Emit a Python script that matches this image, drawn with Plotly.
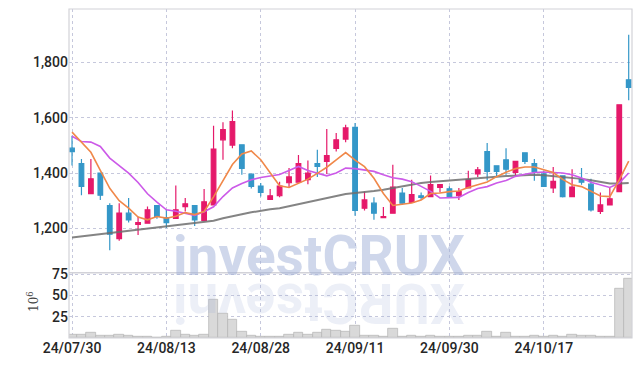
import plotly.graph_objects as go

dates = ["24/07/30","24/07/31","24/08/01","24/08/02","24/08/05","24/08/06","24/08/07","24/08/08","24/08/09","24/08/12",
         "24/08/13","24/08/14","24/08/16","24/08/19","24/08/20","24/08/21","24/08/22","24/08/23","24/08/26","24/08/27",
         "24/08/28","24/08/29","24/08/30","24/09/02","24/09/03","24/09/04","24/09/05","24/09/06","24/09/09","24/09/10",
         "24/09/11","24/09/12","24/09/13","24/09/19","24/09/20","24/09/23","24/09/24","24/09/25","24/09/26","24/09/27",
         "24/09/30","24/10/02","24/10/04","24/10/07","24/10/08","24/10/10","24/10/11","24/10/14","24/10/15","24/10/16",
         "24/10/17","24/10/18","24/10/21","24/10/22","24/10/23","24/10/24","24/10/25","24/10/28","24/10/29","24/10/30"]

open_ = [1490,1434,1326,1400,1282,1163,1255,1214,1219,1282,
         1239,1236,1279,1282,1229,1285,1520,1501,1502,1396,
         1353,1305,1318,1365,1367,1376,1434,1442,1489,1523,
         1565,1273,1291,1239,1255,1328,1294,1318,1315,1348,
         1343,1318,1346,1397,1478,1426,1448,1402,1473,1434,
         1397,1346,1390,1315,1376,1360,1261,1285,1333,1737]
high = [1535,1451,1451,1402,1291,1291,1310,1243,1279,1284,
        1267,1355,1310,1285,1342,1571,1584,1626,1503,1398,
        1364,1342,1369,1418,1465,1445,1484,1559,1545,1575,
        1581,1333,1313,1277,1430,1346,1376,1330,1391,1360,
        1352,1346,1408,1422,1509,1428,1490,1443,1475,1451,
        1409,1422,1392,1414,1418,1379,1330,1346,1648,1900]
low = [1427,1320,1324,1303,1121,1155,1221,1176,1217,1235,
       1201,1234,1261,1209,1226,1283,1448,1490,1394,1344,
       1315,1303,1313,1349,1365,1360,1386,1397,1478,1511,
       1246,1265,1231,1239,1253,1285,1292,1303,1313,1330,
       1311,1303,1344,1386,1373,1388,1394,1388,1433,1372,
       1350,1328,1312,1313,1358,1261,1252,1283,1332,1663]
close = [1477,1352,1379,1320,1179,1255,1231,1221,1267,1243,
         1221,1267,1289,1231,1296,1487,1557,1586,1417,1352,
         1330,1318,1353,1386,1434,1400,1424,1463,1520,1563,
         1265,1303,1255,1243,1349,1291,1322,1312,1358,1358,
         1313,1333,1376,1412,1406,1406,1414,1442,1442,1406,
         1352,1370,1315,1349,1367,1267,1285,1307,1647,1710]

ma5 = [1548,1512,1475,1410,1345,1300,1273,1241,1231,1243,
       1237,1244,1257,1250,1261,1314,1372,1431,1469,1480,
       1448,1401,1354,1348,1364,1378,1399,1421,1448,1474,
       1447,1423,1381,1326,1283,1288,1292,1303,1326,1328,
       1333,1335,1348,1358,1368,1387,1403,1416,1422,1422,
       1411,1402,1377,1358,1351,1334,1317,1315,1375,1443]
ma20 = [1533,1514,1512,1496,1454,1426,1400,1366,1325,1295,
        1267,1262,1255,1247,1260,1278,1315,1346,1362,1376,
        1384,1390,1395,1409,1424,1409,1400,1390,1400,1418,
        1416,1412,1406,1394,1383,1378,1369,1352,1334,1310,
        1310,1312,1330,1344,1351,1364,1373,1388,1396,1402,
        1404,1402,1400,1394,1382,1367,1358,1348,1364,1400]
ma_long = [1167,1171,1175,1179,1183,1187,1191,1195,1199,1203,
           1207,1211,1215,1219,1223,1228,1237,1245,1251,1258,
           1264,1269,1273,1280,1289,1296,1303,1310,1317,1324,
           1328,1331,1335,1340,1346,1352,1359,1364,1368,1371,
           1373,1376,1379,1382,1385,1387,1389,1391,1393,1394,
           1392,1389,1386,1383,1379,1374,1368,1362,1362,1364]
volume = [4.3,4.5,5.8,3.1,3.1,4.5,3.1,2,2,0.5,
          2,8.2,3.5,2.3,4.5,44.6,28.2,21.1,7,3.1,
          2,2,2,4.5,5.8,3.9,5.8,10.2,8.2,7,
          14.9,3.1,2.3,2,11.4,1,3,2,3,2,
          1,1,3,3,7,2,5.8,2,2,3,
          2,3,2,4.5,3,3,1,1,57.9,70]

x_ticks = ["24/07/30","24/08/13","24/08/28","24/09/11","24/09/30","24/10/17"]
price_ticks = [1200, 1400, 1600, 1800]
volume_ticks = [25, 50, 75]

UP = "#e5196a"
DOWN = "#3497c8"
GRID = "#c6c8dc"
BORDER = "#d2d2d8"
TICKFONT = dict(family="Roboto, Liberation Sans, sans-serif", size=14, color="#262626", weight=500)
VOL_DOMAIN = 0.1986

fig = go.Figure()

fig.add_trace(go.Bar(x=dates, y=volume, yaxis="y2", marker=dict(color="#d9d9d9", line=dict(color="#b3b3b3", width=0.7)),
                     showlegend=False, hoverinfo="skip"))

fig.add_trace(go.Candlestick(x=dates, open=open_, high=high, low=low, close=close,
                             increasing=dict(line=dict(color=UP, width=1.2), fillcolor=UP),
                             decreasing=dict(line=dict(color=DOWN, width=1.2), fillcolor=DOWN),
                             whiskerwidth=0, showlegend=False))

fig.add_trace(go.Scatter(x=dates, y=ma_long, mode="lines", line=dict(color="rgba(110,110,110,0.85)", width=2), showlegend=False))
fig.add_trace(go.Scatter(x=dates, y=ma20, mode="lines", line=dict(color="#cc5ae8", width=1.6), showlegend=False))
fig.add_trace(go.Scatter(x=dates, y=ma5, mode="lines", line=dict(color="#f0884a", width=1.6), showlegend=False))

wm_font = dict(family="Roboto, Liberation Sans, sans-serif", size=55, weight="bold")

fig.update_layout(
    width=634, height=358,
    margin=dict(l=61, r=9.7, t=1.3, b=28, autoexpand=False),
    paper_bgcolor="white", plot_bgcolor="white",
    showlegend=False,
    boxgap=0.3,
    bargap=0,
    xaxis=dict(type="category", categoryorder="array", categoryarray=dates,
               range=[-0.32, 59.35], anchor="y2", tickvals=x_ticks, ticktext=x_ticks,
               showgrid=True, gridcolor=GRID, griddash="dot", gridwidth=1,
               tickfont=TICKFONT, ticks="", showline=False, zeroline=False, automargin=False,
               rangeslider=dict(visible=False)),
    yaxis=dict(domain=[VOL_DOMAIN, 1], range=[1040, 1993], tickvals=price_ticks, tickformat=",",
               showgrid=True, gridcolor=GRID, griddash="dot", gridwidth=1, zeroline=False,
               tickfont=TICKFONT, ticks="", automargin=False),
    yaxis2=dict(domain=[0, VOL_DOMAIN], range=[0, 76.6], tickvals=volume_ticks,
                showgrid=True, gridcolor=GRID, griddash="dot", gridwidth=1, zeroline=False,
                tickfont=TICKFONT, ticks="", automargin=False),
    shapes=[
        dict(type="rect", xref="paper", yref="paper", x0=0, x1=1, y0=0, y1=1,
             line=dict(color=BORDER, width=1.2), layer="above"),
        dict(type="line", xref="paper", yref="paper", x0=0, x1=1, y0=VOL_DOMAIN, y1=VOL_DOMAIN,
             line=dict(color=BORDER, width=1.5), layer="above"),
    ],
    annotations=[
        dict(text="investCRUX", xref="paper", yref="paper", x=0.4438, y=0.2505, xanchor="center", yanchor="middle",
             showarrow=False, font=dict(color="rgba(160,175,215,0.5)", **wm_font)),
        dict(text="XURCtsevni", xref="paper", yref="paper", x=0.4438, y=0.108, xanchor="center", yanchor="middle",
             textangle=180, showarrow=False, font=dict(color="rgba(160,175,215,0.2)", **wm_font)),
        dict(text="10<sup>6</sup>", xref="paper", yref="paper", x=-0.064, y=0.1126, xanchor="center", yanchor="middle",
             textangle=-90, showarrow=False, font=dict(family="DejaVu Serif, Liberation Serif, serif", size=12, color="#444")),
    ],
)

fig.write_html("out.html")
